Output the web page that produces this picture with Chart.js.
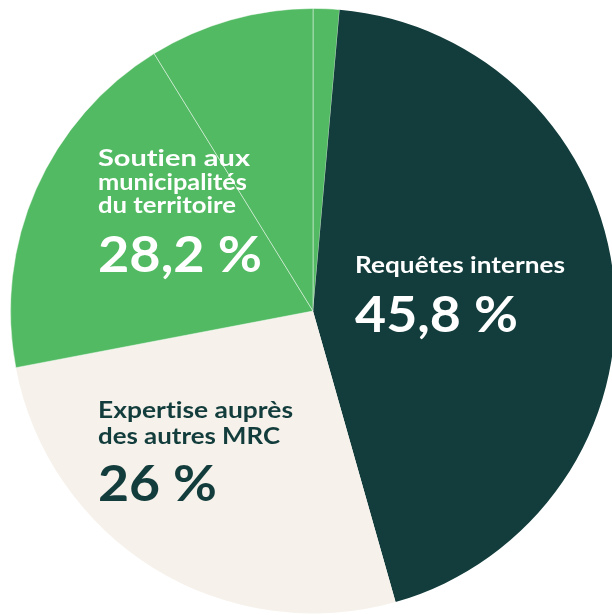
<!DOCTYPE html>
<html lang="fr">
<head>
<meta charset="utf-8">
<script src="https://cdn.jsdelivr.net/npm/chart.js@4"></script>
<style>
  html, body { margin: 0; padding: 0; background: #fff; overflow: hidden; width: 612px; height: 615px; }
  #wrap { position: absolute; left: 10px; top: 8px; width: 606px; height: 606px; }
</style>
</head>
<body>
<div id="wrap"><canvas id="pie"></canvas></div>
<script>
// slices, clockwise from 12 o'clock (sizes)
const categories = ["Soutien aux municipalités (c)", "Requêtes internes", "Expertise auprès des autres MRC", "Soutien aux municipalités (a)", "Soutien aux municipalités (b)"];
const values = [1.4, 44.2, 26.4, 19.2, 8.8];
const colors = ["#52ba62", "#133d3c", "#f6f1ea", "#52ba62", "#52ba62"];
const pctLabels = ["28,2 %", "45,8 %", "26 %"];

const DARK = "#133d3c";
const ZW = "\u200C"; // keeps Lato from joining "ti"

// draw text squeezed/stretched to a given width
function fitText(ctx, text, x, y, size, width, color) {
  ctx.save();
  ctx.font = "bold " + size + "px Lato";
  ctx.fillStyle = color;
  ctx.textBaseline = "alphabetic";
  const w = ctx.measureText(text).width;
  ctx.translate(x, y);
  ctx.scale(width / w, 1);
  ctx.fillText(text, 0, 0);
  ctx.restore();
}

const labelPlugin = {
  id: "labels",
  afterDraw(chart) {
    const ctx = chart.ctx;
    const ox = -10, oy = -8; // page -> canvas offset
    // green block
    fitText(ctx, "Sout" + ZW + "ien aux", 98 + ox, 166 + oy, 22, 152, "#fff");
    fitText(ctx, "municipalités", 98 + ox, 190 + oy, 22, 149, "#fff");
    fitText(ctx, "du territoire", 98 + ox, 213 + oy, 22, 138, "#fff");
    fitText(ctx, pctLabels[0], 98 + ox, 272 + oy, 50, 164, "#fff");
    // dark block
    fitText(ctx, "Requêtes internes", 355 + ox, 273 + oy, 22, 210, "#fff");
    fitText(ctx, pctLabels[1], 355 + ox, 332 + oy, 50, 163, "#fff");
    // beige block
    fitText(ctx, "Expert" + ZW + "ise auprès", 98 + ox, 418 + oy, 22, 195, DARK);
    fitText(ctx, "des autres MRC", 98 + ox, 444 + oy, 22, 182, DARK);
    fitText(ctx, pctLabels[2], 98 + ox, 501 + oy, 50, 119, DARK);
  }
};

new Chart(document.getElementById("pie"), {
  type: "pie",
  data: {
    labels: categories,
    datasets: [{
      data: values,
      backgroundColor: colors,
      borderColor: ["rgba(255,255,255,0.45)", DARK, "#f6f1ea", "rgba(255,255,255,0.45)", "rgba(255,255,255,0.45)"],
      borderWidth: [1, 0, 0, 1, 1]
    }]
  },
  options: {
    responsive: true,
    maintainAspectRatio: false,
    animation: false,
    layout: { padding: 0 },
    plugins: {
      legend: { display: false },
      tooltip: { enabled: false }
    }
  },
  plugins: [labelPlugin]
});
</script>
</body>
</html>
